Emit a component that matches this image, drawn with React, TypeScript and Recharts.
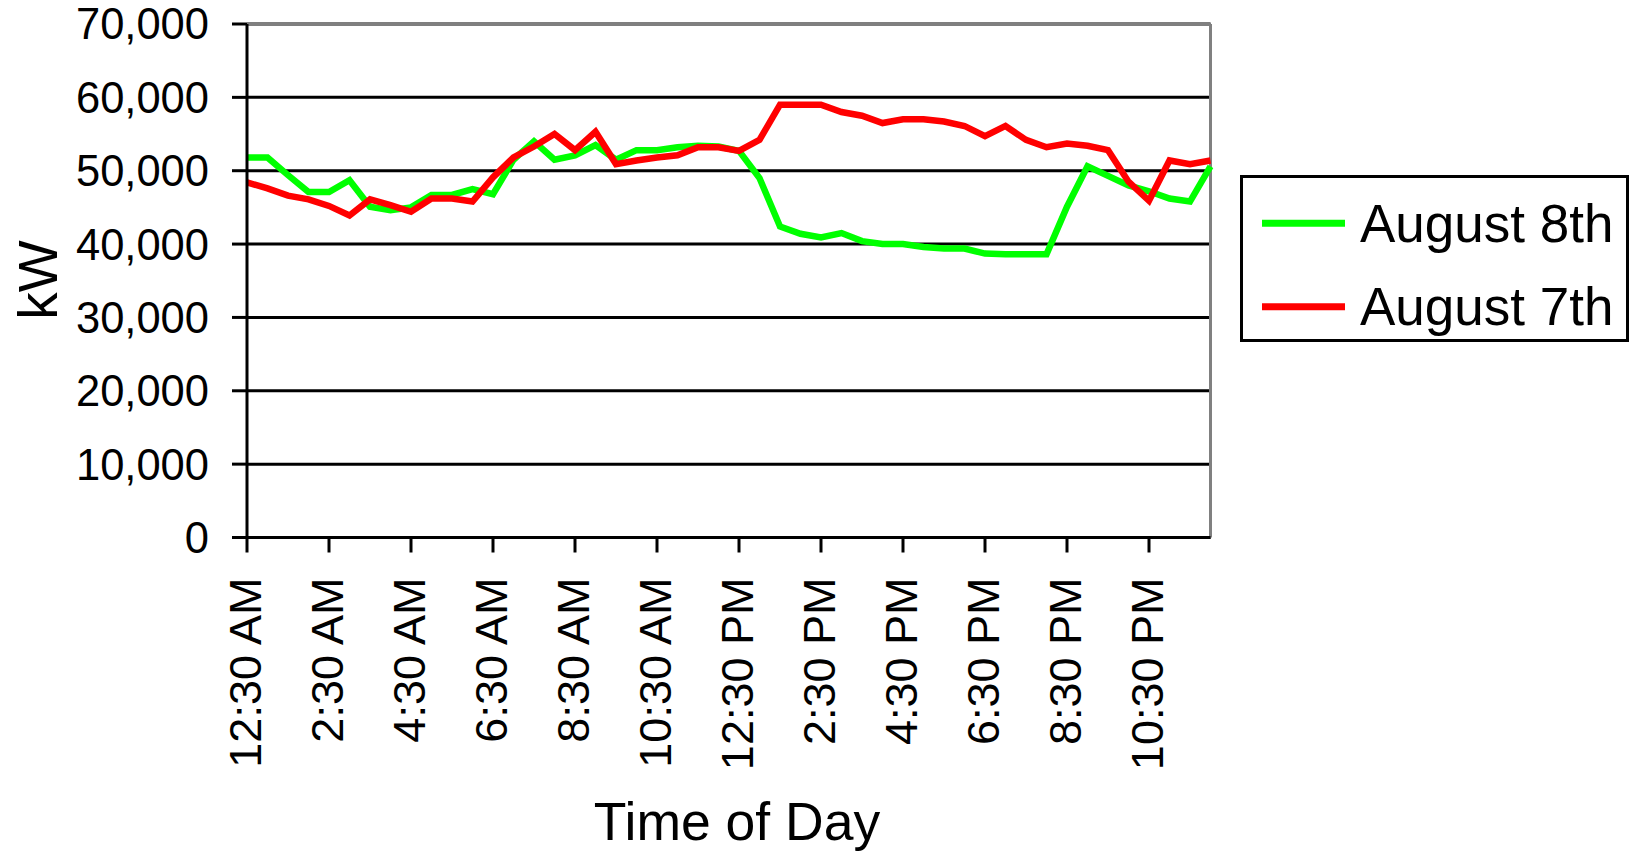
import React from 'react';
import { LineChart, Line, XAxis, YAxis, CartesianGrid, ReferenceLine, Legend } from 'recharts';

const timeLabels = [
  '12:30 AM', '1:00 AM', '1:30 AM', '2:00 AM', '2:30 AM', '3:00 AM', '3:30 AM', '4:00 AM',
  '4:30 AM', '5:00 AM', '5:30 AM', '6:00 AM', '6:30 AM', '7:00 AM', '7:30 AM', '8:00 AM',
  '8:30 AM', '9:00 AM', '9:30 AM', '10:00 AM', '10:30 AM', '11:00 AM', '11:30 AM', '12:00 PM',
  '12:30 PM', '1:00 PM', '1:30 PM', '2:00 PM', '2:30 PM', '3:00 PM', '3:30 PM', '4:00 PM',
  '4:30 PM', '5:00 PM', '5:30 PM', '6:00 PM', '6:30 PM', '7:00 PM', '7:30 PM', '8:00 PM',
  '8:30 PM', '9:00 PM', '9:30 PM', '10:00 PM', '10:30 PM', '11:00 PM', '11:30 PM', '12:00 AM',
];

const august8th = [
  51800, 51800, 49400, 47100, 47100, 48700, 45100, 44600,
  45000, 46700, 46700, 47500, 46800, 51500, 54000, 51500,
  52100, 53500, 51500, 52800, 52800, 53200, 53400, 53300,
  52700, 49000, 42400, 41400, 40900, 41500, 40400, 40000,
  40000, 39600, 39400, 39400, 38700, 38600, 38600, 38600,
  45100, 50600, 49300, 48000, 47200, 46200, 45800, 50600,
];

const august7th = [
  48400, 47600, 46600, 46100, 45200, 43900, 46100, 45300,
  44400, 46200, 46200, 45800, 49100, 51800, 53300, 55000,
  52800, 55300, 50900, 51400, 51800, 52100, 53200, 53200,
  52700, 54200, 59000, 59000, 59000, 58000, 57500, 56500,
  57000, 57000, 56700, 56100, 54700, 56100, 54200, 53200,
  53700, 53400, 52800, 48500, 45900, 51400, 50900, 51400,
];

const yTicks = [0, 10000, 20000, 30000, 40000, 50000, 60000, 70000];
const seriesNames = ['August 8th', 'August 7th'];
const seriesKeys = ['aug8', 'aug7'];
const seriesColors = ['#00FF00', '#FF0000'];

const data = timeLabels.map((t, i) => ({ t, aug8: august8th[i], aug7: august7th[i] }));

const FONT = '"Liberation Sans", Arial, Helvetica, sans-serif';

const XTick = (props: any) => {
  const { x, y, payload } = props;
  return (
    <text
      x={0}
      y={0}
      transform={`translate(${x + 13.5}, ${y}) rotate(-90) scale(1.035, 1)`}
      textAnchor="end"
      fontSize={43.5}
      fill="#000"
      fontFamily={FONT}
    >
      {payload.value}
    </text>
  );
};

const LegendBox = () => (
  <div
    style={{
      width: 389,
      height: 167,
      boxSizing: 'border-box',
      border: '3px solid #000',
      background: '#fff',
    }}
  >
    <svg width={383} height={161} style={{ display: 'block' }}>
      {seriesNames.map((name, i) => (
        <g key={name}>
          <line x1={19} x2={102} y1={45.3 + i * 83.4} y2={45.3 + i * 83.4} stroke={seriesColors[i]} strokeWidth={7} />
          <text x={117} y={63.7 + i * 83.4} fontSize={53} fill="#000" fontFamily={FONT}>
            {name}
          </text>
        </g>
      ))}
    </svg>
  </div>
);

export default function App() {
  return (
    <div style={{ position: 'absolute', left: 0, top: 0, width: 1631, height: 852, background: '#fff', fontFamily: FONT }}>
      <LineChart
        width={1631}
        height={852}
        data={data}
        margin={{ top: 24, right: 420.5, bottom: 0, left: 0 }}
      >
        <CartesianGrid vertical={false} stroke="#000" strokeWidth={3} />
        <ReferenceLine y={70000} stroke="#808080" strokeWidth={3} />
        <ReferenceLine x={timeLabels[timeLabels.length - 1]} stroke="#808080" strokeWidth={3} />
        <XAxis
          dataKey="t"
          interval={3}
          height={314.5}
          tickSize={15}
          tickMargin={25}
          tick={<XTick />}
          axisLine={{ stroke: '#000', strokeWidth: 3 }}
          tickLine={{ stroke: '#000', strokeWidth: 3 }}
          label={{
            content: () => (
              <text x={737} y={840} textAnchor="middle" fontSize={53.5} fill="#000" fontFamily={FONT}>
                Time of Day
              </text>
            ),
          }}
        />
        <YAxis
          type="number"
          domain={[0, 70000]}
          ticks={yTicks}
          interval={0}
          width={247}
          tickSize={15}
          tickMargin={23}
          tickFormatter={(v: number) => v.toLocaleString('en-US')}
          tick={{ fontSize: 43.5, fill: '#000', fontFamily: FONT }}
          axisLine={{ stroke: '#000', strokeWidth: 3 }}
          tickLine={{ stroke: '#000', strokeWidth: 3 }}
          label={{
            content: () => (
              <text
                x={0}
                y={0}
                transform="translate(57, 280) rotate(-90)"
                textAnchor="middle"
                fontSize={55}
                fill="#000"
                fontFamily={FONT}
              >
                kW
              </text>
            ),
          }}
        />
        <Legend
          layout="vertical"
          align="center"
          verticalAlign="middle"
          content={<LegendBox />}
          wrapperStyle={{ left: 1240, top: 175, width: 389, height: 167 }}
        />
        {seriesKeys.map((k, i) => (
          <Line
            key={k}
            type="linear"
            dataKey={k}
            name={seriesNames[i]}
            stroke={seriesColors[i]}
            strokeWidth={6.5}
            dot={false}
            activeDot={false}
            isAnimationActive={false}
          />
        ))}
      </LineChart>
    </div>
  );
}
